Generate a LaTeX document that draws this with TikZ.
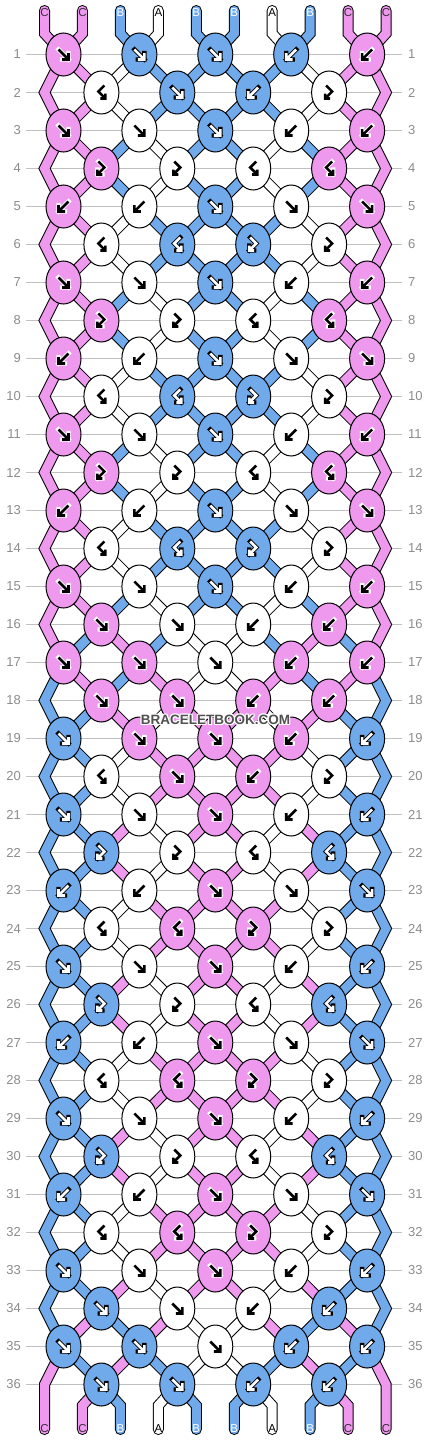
\documentclass[tikz,border=0pt]{standalone}
\usepackage{fontspec}
\setmainfont{Liberation Sans}
\usetikzlibrary{shapes.geometric}
\pgfdeclarelayer{bgl}
\pgfdeclarelayer{cblack}
\pgfdeclarelayer{ccol}
\pgfsetlayers{bgl,cblack,ccol,main}
\definecolor{colC}{HTML}{EE99EE}
\definecolor{colB}{HTML}{70AAEB}
\definecolor{colA}{HTML}{FFFFFF}
\colorlet{afgC}{black}\colorlet{abgC}{white}
\colorlet{afgA}{black}\colorlet{abgA}{white}
\colorlet{afgB}{white}\colorlet{abgB}{black}
\definecolor{txtC}{HTML}{3A2A3A}
\colorlet{txtA}{black}
\colorlet{txtB}{white}
\definecolor{rowgray}{HTML}{8C8C8C}
\definecolor{gridgray}{HTML}{C0C0C0}
\definecolor{wmgray}{HTML}{505050}
\newcommand\fsz[1]{\fontsize{#1}{#1}\selectfont}
% knot symbols (y axis points down)
\def\kSf{(-5,-5)--(5,5) (5,-1.5)--(5,5)--(-1.5,5)}
\def\kSb{(5,-5)--(-5,5) (-5,-1.5)--(-5,5)--(1.5,5)}
\def\kSfb{(-3,-7)--(3,-1)--(-4,6) (-4,1)--(-4,6)--(1,6)}
\def\kSbf{(3,-7)--(-3,-1)--(4,6) (4,1)--(4,6)--(-1,6)}
% string states after each row
\def\stA{C,C,A,B,B,B,B,A,C,C}
\def\stB{C,C,B,A,B,B,A,B,C,C}
\def\stC{C,B,C,B,A,A,B,C,B,C}
\def\stD{B,C,B,C,A,A,C,B,C,B}
\def\stE{B,B,C,A,C,C,A,C,B,B}
\def\stF{B,B,A,C,C,C,C,A,B,B}
\tikzset{
  knot/.style={ellipse, draw=black, line width=1pt, minimum width=35pt, minimum height=43pt, inner sep=0pt},
  symfg/.style={line width=2.6pt, line join=miter},
  symbg/.style={line width=4.4pt, line join=miter, line cap=rect},
  rowlab/.style={inner sep=0pt, text=rowgray, font=\fsz{13}},
  strlab/.style={inner sep=0pt, font=\fsz{11.5}},
  wm/.style={inner sep=0pt, font=\bfseries\fsz{13.5}},
  gridline/.style={draw=gridgray, line width=1pt},
  bandout/.style={line width=11pt,black,line cap=round,line join=miter},
  bandin/.style={line width=9pt,line cap=round,line join=miter},
}
\gdef\connlist{}
\newcommand\conn[2]{\xdef\connlist{\unexpanded\expandafter{\connlist}\noexpand\doconn{#1}{#2}}}
\newcommand\Row[2]{%
  \pgfmathsetmacro\yy{54.5+38*(#1-1)}%
  \pgfmathtruncatemacro\odd{mod(#1,2)}%
  \node[rowlab,anchor=east] (rl-#1-L) at (21,\yy) {#1};
  \node[rowlab,anchor=west] (rl-#1-R) at (408,\yy) {#1};
  \foreach \kt/\kc [count=\k from 0] in {#2} {%
    \pgfmathsetmacro\xx{\odd==1 ? 63.5+75.9*\k : 101.4+75.9*\k}%
    \node[knot,fill=col\kc] (k-#1-\k) at (\xx,\yy) {};
    \expandafter\let\expandafter\sympath\csname kS\kt\endcsname
    \draw[symbg,draw=abg\kc,shift={(\xx,\yy)}] \sympath;
    \draw[symfg,draw=afg\kc,shift={(\xx,\yy)}] \sympath;
  }}
\newcommand\State[2]{%
  \pgfmathtruncatemacro\odd{mod(#1,2)}%
  \pgfmathtruncatemacro\rb{#1+1}%
  \foreach \cc [count=\pp from 0] in #2 {%
    \ifnum\pp>0 \ifnum\pp<9
      \pgfmathtruncatemacro\ka{\odd==1 ? floor(\pp/2) : floor((\pp-1)/2)}%
      \pgfmathtruncatemacro\kb{\odd==1 ? floor((\pp-1)/2) : floor(\pp/2)}%
      \conn{\cc}{(k-#1-\ka.center) -- (k-\rb-\kb.center)}%
    \fi\fi
  }}
\begin{document}
\begin{tikzpicture}[x=1pt,y=-1pt]
\useasboundingbox (0,0) rectangle (430,1440);
\begin{pgfonlayer}{bgl}
\fill[white] (0,0) rectangle (430,1440);
\foreach \r in {1,...,36} {
  \pgfmathsetmacro\yy{54.5+38*(\r-1)}
  \draw[gridline] (26,\yy)--(402,\yy);
}
\end{pgfonlayer}
\foreach \pp in {0,...,9} {
  \pgfmathsetmacro\xx{44.5+37.95*\pp}
  \coordinate (t-\pp) at (\xx,10.5);
  \coordinate (tb-\pp) at (\xx,33.5);
  \coordinate (bb-\pp) at (\xx,1405.5);
  \coordinate (b-\pp) at (\xx,1429.5);
}
\foreach \r in {2,4,...,36} {
  \pgfmathsetmacro\yy{54.5+38*(\r-1)}
  \coordinate (eL-\r) at (44.5,\yy);
  \coordinate (eR-\r) at (386.05,\yy);
}
% knots
\Row{1}{f/C,f/B,f/B,b/B,b/C}
\Row{2}{bf/A,f/B,b/B,fb/A}
\Row{3}{f/C,f/A,f/B,b/A,b/C}
\Row{4}{fb/C,fb/A,bf/A,bf/C}
\Row{5}{b/C,b/A,f/B,f/A,f/C}
\Row{6}{bf/A,bf/B,fb/B,fb/A}
\Row{7}{f/C,f/A,f/B,b/A,b/C}
\Row{8}{fb/C,fb/A,bf/A,bf/C}
\Row{9}{b/C,b/A,f/B,f/A,f/C}
\Row{10}{bf/A,bf/B,fb/B,fb/A}
\Row{11}{f/C,f/A,f/B,b/A,b/C}
\Row{12}{fb/C,fb/A,bf/A,bf/C}
\Row{13}{b/C,b/A,f/B,f/A,f/C}
\Row{14}{bf/A,bf/B,fb/B,fb/A}
\Row{15}{f/C,f/A,f/B,b/A,b/C}
\Row{16}{f/C,f/A,b/A,b/C}
\Row{17}{f/C,f/C,f/A,b/C,b/C}
\Row{18}{f/C,f/C,b/C,b/C}
\Row{19}{f/B,f/C,f/C,b/C,b/B}
\Row{20}{bf/A,f/C,b/C,fb/A}
\Row{21}{f/B,f/A,f/C,b/A,b/B}
\Row{22}{fb/B,fb/A,bf/A,bf/B}
\Row{23}{b/B,b/A,f/C,f/A,f/B}
\Row{24}{bf/A,bf/C,fb/C,fb/A}
\Row{25}{f/B,f/A,f/C,b/A,b/B}
\Row{26}{fb/B,fb/A,bf/A,bf/B}
\Row{27}{b/B,b/A,f/C,f/A,f/B}
\Row{28}{bf/A,bf/C,fb/C,fb/A}
\Row{29}{f/B,f/A,f/C,b/A,b/B}
\Row{30}{fb/B,fb/A,bf/A,bf/B}
\Row{31}{b/B,b/A,f/C,f/A,f/B}
\Row{32}{bf/A,bf/C,fb/C,fb/A}
\Row{33}{f/B,f/A,f/C,b/A,b/B}
\Row{34}{f/B,f/A,b/A,b/B}
\Row{35}{f/B,f/B,f/A,b/B,b/B}
\Row{36}{f/B,f/B,b/B,b/B}
% connectors between rows
\State{1}{\stA}\State{2}{\stA}\State{3}{\stB}\State{4}{\stB}
\State{5}{\stA}\State{6}{\stA}\State{7}{\stB}\State{8}{\stB}
\State{9}{\stA}\State{10}{\stA}\State{11}{\stB}\State{12}{\stB}
\State{13}{\stA}\State{14}{\stA}\State{15}{\stB}\State{16}{\stC}
\State{17}{\stD}\State{18}{\stE}\State{19}{\stF}\State{20}{\stF}
\State{21}{\stE}\State{22}{\stE}\State{23}{\stF}\State{24}{\stF}
\State{25}{\stE}\State{26}{\stE}\State{27}{\stF}\State{28}{\stF}
\State{29}{\stE}\State{30}{\stE}\State{31}{\stF}\State{32}{\stF}
\State{33}{\stE}\State{34}{\stD}\State{35}{\stC}
% edge strings
\foreach \r/\cc in {2/C,4/C,6/C,8/C,10/C,12/C,14/C,16/C,18/B,20/B,22/B,24/B,26/B,28/B,30/B,32/B,34/B} {
  \pgfmathtruncatemacro\ra{\r-1}
  \pgfmathtruncatemacro\rb{\r+1}
  \conn{\cc}{(k-\ra-0.center)--(eL-\r)--(k-\rb-0.center)}
  \conn{\cc}{(k-\ra-4.center)--(eR-\r)--(k-\rb-4.center)}
}
\conn{C}{(k-35-0.center)--(eL-36)--(b-0)}
\conn{C}{(k-35-4.center)--(eR-36)--(b-9)}
% top strings
\foreach \cc [count=\pp from 0] in \stB {
  \pgfmathtruncatemacro\kk{floor(\pp/2)}
  \pgfmathsetmacro\xx{44.5+37.95*\pp}
  \conn{\cc}{(t-\pp)--(tb-\pp)--(k-1-\kk.center)}
  \node[strlab,text=txt\cc] (lt-\pp) at (\xx,12.5) {\cc};
}
% bottom strings
\foreach \cc [count=\pp from 0] in \stB {
  \pgfmathsetmacro\xx{44.5+37.95*\pp}
  \ifnum\pp>0 \ifnum\pp<9
    \pgfmathtruncatemacro\kk{floor((\pp-1)/2)}
    \conn{\cc}{(k-36-\kk.center)--(bb-\pp)--(b-\pp)}
  \fi\fi
  \node[strlab,text=txt\cc] (lb-\pp) at (\xx,1428.5) {\cc};
}
% draw all connectors, outline pass then colour pass
\begin{pgfonlayer}{cblack}
\def\doconn#1#2{\draw[bandout] #2;}
\connlist
\end{pgfonlayer}
\begin{pgfonlayer}{ccol}
\def\doconn#1#2{\draw[bandin,color=col#1] #2;}
\connlist
\end{pgfonlayer}
% watermark
\foreach \dx/\dy [count=\i] in {-1/-1,-1/0,-1/1,0/-1,0/1,1/-1,1/0,1/1}
  \node[wm,text=white] (wmh-\i) at (215.5+\dx,719.5+\dy) {BRACELETBOOK.COM};
\node[wm,text=wmgray] (wm) at (215.5,719.5) {BRACELETBOOK.COM};
\end{tikzpicture}
\end{document}
